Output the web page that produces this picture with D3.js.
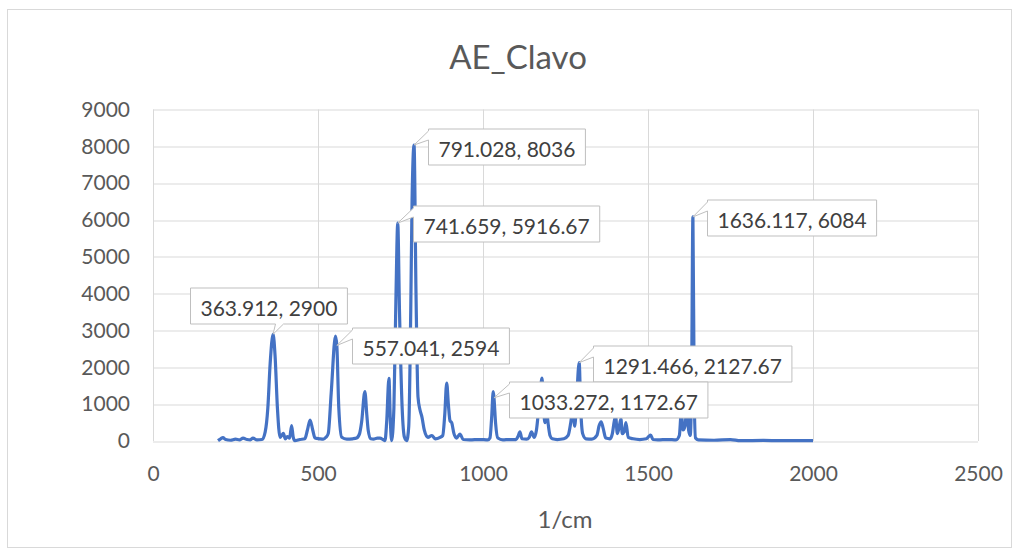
<!DOCTYPE html>
<html>
<head>
<meta charset="utf-8">
<script src="https://cdn.jsdelivr.net/npm/d3@7"></script>
<style>
  body { margin: 0; background: #fff; }
  svg { font-family: Lato, "Open Sans", sans-serif; }
  .grid line { stroke: #d9d9d9; stroke-width: 1; }
  .axis text { fill: #595959; font-size: 21px; }
</style>
</head>
<body>
<svg id="chart" width="1019" height="554"></svg>
<script>
// spectrum (wavenumber 1/cm, intensity)
var wavenumber = [197, 205, 212, 220, 235, 250, 262, 273, 285, 295, 303, 315, 330, 340, 348, 355, 363.912, 370, 377, 385,
  390, 395, 401, 407, 414, 420, 425, 430, 445, 460, 468, 476, 484, 491, 505, 516, 524, 531, 540, 553,
  557.041, 563, 572, 587, 605, 617, 626, 632, 642, 648, 652, 660, 668, 680, 688, 697, 703, 708, 715, 719,
  723, 730, 736, 741.659, 747, 755, 762, 769, 775, 781, 785, 791.028, 797, 803, 809, 815, 822, 833, 845, 855,
  870, 878, 884, 890, 895, 900, 905, 912, 920, 930, 940, 960, 990, 1015, 1021, 1026, 1031, 1033.272, 1038, 1045,
  1060, 1080, 1100, 1106, 1112, 1118, 1132, 1140, 1147, 1155, 1162, 1168, 1174, 1179, 1184, 1188, 1192, 1197, 1203, 1210,
  1225, 1245, 1258, 1266, 1272, 1278, 1284, 1291.466, 1296, 1302, 1312, 1330, 1345, 1352, 1358, 1364, 1372, 1385, 1392, 1398,
  1402, 1407, 1412, 1418, 1422, 1428, 1433, 1440, 1455, 1475, 1495, 1502, 1508, 1515, 1530, 1560, 1585, 1595, 1601, 1606,
  1612, 1618, 1623, 1628, 1632, 1636.117, 1640, 1644, 1652, 1700, 1750, 1780, 1850, 1900, 1950, 2000];
var intensity = [10, 60, 90, 40, 20, 50, 30, 80, 40, 30, 80, 30, 40, 250, 900, 2100, 2900, 2300, 900, 100,
  150, 210, 60, 120, 80, 420, 100, 10, 40, 60, 300, 570, 300, 80, 60, 50, 100, 200, 1300, 2850,
  2594, 900, 100, 50, 60, 80, 200, 500, 1340, 700, 300, 60, 50, 80, 80, 40, 10, 500, 1700, 600,
  10, 900, 3800, 5916.67, 3500, 900, 100, 10, 400, 3500, 6500, 8036, 4000, 1200, 850, 650, 300, 100, 150, 60,
  100, 150, 700, 1575, 1000, 550, 500, 200, 80, 190, 40, 30, 40, 30, 80, 600, 1340, 1172.67, 500, 80,
  30, 40, 40, 120, 250, 60, 50, 100, 250, 100, 300, 800, 1400, 1710, 800, 500, 900, 500, 150, 60,
  40, 60, 150, 500, 850, 400, 1200, 2127.67, 900, 200, 60, 50, 150, 420, 520, 350, 80, 60, 200, 550,
  660, 200, 350, 600, 200, 250, 500, 100, 60, 40, 60, 120, 160, 40, 30, 40, 30, 150, 800, 300,
  400, 950, 300, 150, 1500, 6084, 1200, 80, 30, 20, 40, 10, 15, 10, 10, 10];

// labelled points
var labelX = [363.912, 557.041, 791.028, 741.659, 1636.117, 1291.466, 1033.272];
var labelY = [2900, 2594, 8036, 5916.67, 6084, 2127.67, 1172.67];

var xTicks = [0, 500, 1000, 1500, 2000, 2500];
var yTicks = [0, 1000, 2000, 3000, 4000, 5000, 6000, 7000, 8000, 9000];

// callout placement relative to the point (box left/top), and wedge side
var labelLayout = [
  {dx: -83, dy: -47, side: "bottom"},
  {dx: 15, dy: -18, side: "left"},
  {dx: 14, dy: -17, side: "left"},
  {dx: 15, dy: -18, side: "left"},
  {dx: 14, dy: -17, side: "left"},
  {dx: 14, dy: -17, side: "left"},
  {dx: 15, dy: -16, side: "left"}
];

var svg = d3.select("#chart"),
    margin = {top: 109.5, right: 41, bottom: 113, left: 153},
    width = +svg.attr("width") - margin.left - margin.right,
    height = +svg.attr("height") - margin.top - margin.bottom;

// chart area border
svg.append("rect")
  .attr("x", 7.5).attr("y", 9.5)
  .attr("width", 1004).attr("height", 538)
  .attr("fill", "#fff").attr("stroke", "#d9d9d9");

svg.append("text")
  .attr("x", 518).attr("y", 69)
  .attr("text-anchor", "middle")
  .attr("fill", "#595959")
  .style("font-size", "33px")
  .text("AE_Clavo");

var g = svg.append("g").attr("transform", "translate(" + margin.left + "," + margin.top + ")");

var x = d3.scaleLinear().domain([0, 2500]).range([0, width]);
var y = d3.scaleLinear().domain([0, 9000]).range([height, 0]);

// gridlines
g.append("g").attr("class", "grid")
  .selectAll("line").data(yTicks).join("line")
  .attr("x1", 0).attr("x2", width)
  .attr("y1", d => Math.round(y(d)) + 0.5).attr("y2", d => Math.round(y(d)) + 0.5);
g.append("g").attr("class", "grid")
  .selectAll("line").data(xTicks).join("line")
  .attr("y1", 0).attr("y2", height)
  .attr("x1", d => Math.round(x(d)) + 0.5).attr("x2", d => Math.round(x(d)) + 0.5);

g.append("g")
  .attr("class", "axis")
  .call(d3.axisLeft(y).tickValues(yTicks).tickSize(0).tickPadding(23).tickFormat(d3.format("d")))
  .call(a => a.select(".domain").remove())
  .selectAll("text").style("font-family", "Lato, sans-serif");

g.append("g")
  .attr("class", "axis")
  .attr("transform", "translate(0," + height + ")")
  .call(d3.axisBottom(x).tickValues(xTicks).tickSize(0).tickPadding(25).tickFormat(d3.format("d")))
  .call(a => a.select(".domain").remove())
  .selectAll("text").style("font-family", "Lato, sans-serif");

svg.append("text")
  .attr("x", 565).attr("y", 528)
  .attr("text-anchor", "middle")
  .attr("fill", "#595959")
  .style("font-size", "24px")
  .text("1/cm");

var line = d3.line()
  .x((d, i) => x(wavenumber[i]))
  .y(d => y(d))
  .curve(d3.curveMonotoneX);

g.append("path")
  .datum(intensity)
  .attr("fill", "none")
  .attr("stroke", "#4472c4")
  .attr("stroke-width", 3.2)
  .attr("stroke-linejoin", "round")
  .attr("d", line);

// callouts
var boxH = 36, pad = 10;
labelX.forEach((lx, i) => {
  var px = x(lx), py = y(labelY[i]), lay = labelLayout[i];
  var cg = g.append("g");
  var path = cg.append("path").attr("fill", "#fff").attr("stroke", "#bfbfbf").attr("stroke-width", 1);
  var t = cg.append("text")
    .attr("fill", "#404040")
    .style("font-size", "21px")
    .attr("text-anchor", "middle")
    .attr("dominant-baseline", "central")
    .text(lx + ", " + labelY[i]);
  var w = t.node().getComputedTextLength() + 2 * pad;
  var bx = Math.round(px + lay.dx) + 0.5, by = Math.round(py + lay.dy) + 0.5;
  t.attr("x", bx + w / 2).attr("y", by + boxH / 2 + 1);
  var p;
  if (lay.side === "bottom") {
    var a1 = -lay.dx + 2, a2 = -lay.dx + 10;
    p = "M" + bx + "," + by + "H" + (bx + w) + "V" + (by + boxH) + "H" + (bx + a2) +
        "L" + px + "," + py + "L" + (bx + a1) + "," + (by + boxH) + "H" + bx + "Z";
  } else {
    p = "M" + bx + "," + by + "H" + (bx + w) + "V" + (by + boxH) + "H" + bx + "V" + (by + 11) +
        "L" + px + "," + py + "L" + bx + "," + (by + 2) + "Z";
  }
  path.attr("d", p);
});
</script>
</body>
</html>
